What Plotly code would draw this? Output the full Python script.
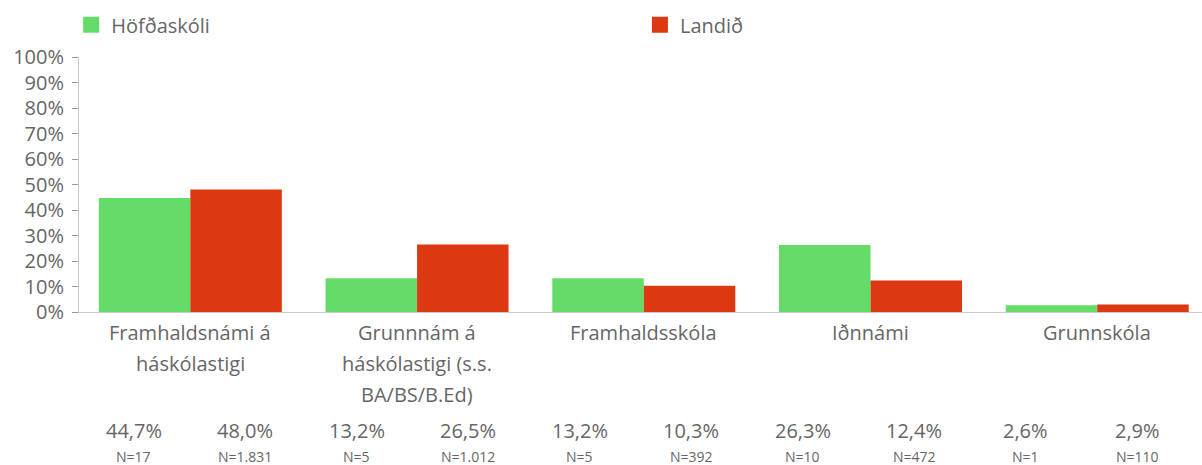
import plotly.graph_objects as go

# ---- data ----
category_lines = [
    ["Framhaldsnámi á", "háskólastigi"],
    ["Grunnnám á", "háskólastigi (s.s.", "BA/BS/B.Ed)"],
    ["Framhaldsskóla"],
    ["Iðnnámi"],
    ["Grunnskóla"],
]
categories = [" ".join(l) for l in category_lines]
series_names = ["Höfðaskóli", "Landið"]
school_pct = [44.7, 13.2, 13.2, 26.3, 2.6]
national_pct = [48.0, 26.5, 10.3, 12.4, 2.9]
school_n = [17, 5, 5, 10, 1]
national_n = [1831, 1012, 392, 472, 110]
y_ticks = list(range(0, 101, 10))
y_tick_labels = [f"{v}%" for v in y_ticks]

GREEN = "#66DC68"
RED = "#DC3912"
TEXT = "#666666"
FONT = "Open Sans"

W, H = 1202, 465
ML, MR, MT, MB = 79, 0, 57, 153

fig = go.Figure()
fig.add_trace(go.Bar(x=categories, y=school_pct, marker=dict(color=GREEN, line=dict(width=0)),
                     name=series_names[0], showlegend=False, hoverinfo="skip"))
fig.add_trace(go.Bar(x=categories, y=national_pct, marker=dict(color=RED, line=dict(width=0)),
                     name=series_names[1], showlegend=False, hoverinfo="skip"))
# legend entries (one legend per series so they can sit apart)
for nm, col, lg in zip(series_names, [GREEN, RED], ["legend", "legend2"]):
    fig.add_trace(go.Scatter(x=[None], y=[None], mode="markers", name=nm, legend=lg,
                             marker=dict(symbol="square", size=16, color=col)))

annotations = []
# category labels, one annotation per line
line_offsets = [-20, -51, -82]
for i, lines in enumerate(category_lines):
    for j, txt in enumerate(lines):
        annotations.append(dict(x=categories[i], y=0, xref="x", yref="paper", text=txt,
                                showarrow=False, xanchor="center", yanchor="middle",
                                yshift=line_offsets[j], font=dict(family=FONT, size=20, color=TEXT)))

# table of values below
def pct(v):
    return f"{v:.1f}".replace(".", ",") + "%"

def nfmt(n):
    return "N=" + f"{n:,}".replace(",", ".")

cells = []
for i in range(len(categories)):
    cells.append((pct(school_pct[i]), nfmt(school_n[i])))
    cells.append((pct(national_pct[i]), nfmt(national_n[i])))
plot_w = W - ML - MR
col_w = 111.5 / plot_w
left = -1 / plot_w
for k, (p, n) in enumerate(cells):
    xc = left + (k + 0.5) * col_w
    annotations.append(dict(x=xc, y=0, xref="paper", yref="paper", text=p, showarrow=False,
                            xanchor="center", yanchor="middle", yshift=-118,
                            font=dict(family=FONT, size=20, color=TEXT)))
    annotations.append(dict(x=xc, y=0, xref="paper", yref="paper", text=n, showarrow=False,
                            xanchor="center", yanchor="middle", yshift=-144,
                            font=dict(family=FONT, size=14, color=TEXT)))

legend_common = dict(orientation="h", xanchor="left", y=1.126, yanchor="middle",
                     itemclick=False, itemdoubleclick=False,
                     font=dict(family=FONT, size=20, color=TEXT), bgcolor="rgba(0,0,0,0)")

fig.update_layout(
    width=W, height=H,
    margin=dict(l=ML, r=MR, t=MT, b=MB, pad=0),
    paper_bgcolor="white", plot_bgcolor="white",
    barmode="group", bargap=0.193, bargroupgap=0,
    font=dict(family=FONT, size=20, color=TEXT),
    showlegend=True,
    legend=dict(x=-0.007, **legend_common),
    legend2=dict(x=0.4995, **legend_common),
    xaxis=dict(range=[-0.491, 4.462], showticklabels=False, ticks="", showgrid=False,
               showline=True, linecolor="#cccccc", linewidth=1, zeroline=False, fixedrange=True),
    yaxis=dict(range=[0, 100], tickmode="array", tickvals=y_ticks, ticktext=y_tick_labels,
               ticks="outside", ticklen=6,
               tickcolor="#999999", showline=True, linecolor="#cccccc", linewidth=1,
               showgrid=False, zeroline=False, ticklabelstandoff=4,
               tickfont=dict(family=FONT, size=20, color=TEXT), fixedrange=True),
    annotations=annotations,
)

fig.write_html("out.html", config={"displayModeBar": False},
               post_script="document.body.style.margin='0';")
